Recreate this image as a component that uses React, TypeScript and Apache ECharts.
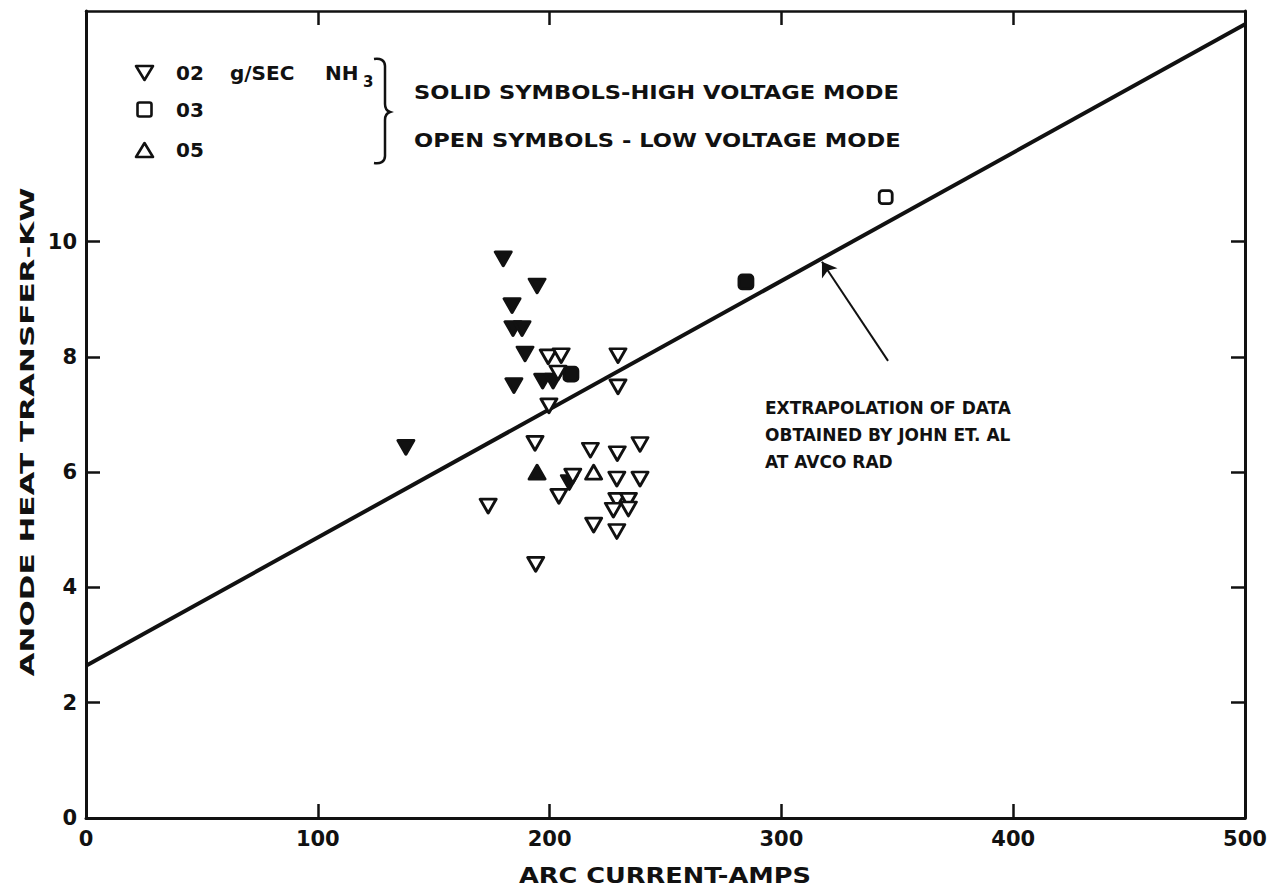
import React, { useEffect, useRef } from "react";
import * as echarts from "echarts";

// ---------- data ----------
const xTicks = [0, 100, 200, 300, 400, 500];
const yTicks = [0, 2, 4, 6, 8, 10];

// 0.2 g/sec NH3, high voltage mode (solid down triangles)
const solid02: [number, number][] = [
  [138, 6.43], [180, 9.7], [194.6, 9.23], [183.8, 8.89], [184.2, 8.49], [188.1, 8.49],
  [189.4, 8.05], [184.6, 7.5], [197, 7.58], [201.5, 7.58], [208.5, 5.82],
];
// 0.2 g/sec NH3, low voltage mode (open down triangles)
const open02: [number, number][] = [
  [199.4, 8.0], [205, 8.02], [229.5, 8.02], [203.6, 7.72], [229.5, 7.48], [199.7, 7.15],
  [193.7, 6.5], [217.6, 6.38], [229.2, 6.32], [239, 6.48], [210, 5.93], [229, 5.88],
  [239, 5.88], [204, 5.58], [173.5, 5.41], [229, 5.51], [234, 5.51], [227.5, 5.34],
  [234, 5.36], [219, 5.08], [229, 4.97], [194, 4.4],
];
// 0.3 g/sec (squares)
const solid03: [number, number][] = [[209.2, 7.7], [284.7, 9.3]];
const open03: [number, number][] = [[345, 10.77]];
// 0.5 g/sec (up triangles)
const solid05: [number, number][] = [[194.6, 6.0]];
const open05: [number, number][] = [[219, 6.0]];

// extrapolation line (John et al, AVCO RAD)
const fitLine: [number, number][] = [[0, 2.64], [500, 13.77]];
const arrowFrom: [number, number] = [346, 7.93];
const arrowTo: [number, number] = [317.5, 9.65];

const legendRows = ["02", "03", "05"];
const modeTexts = ["SOLID SYMBOLS-HIGH VOLTAGE MODE", "OPEN SYMBOLS - LOW VOLTAGE MODE"];
const noteLines = ["EXTRAPOLATION OF DATA", "OBTAINED BY JOHN ET. AL", "AT AVCO RAD"];

// ---------- shapes ----------
const braceD =
  "M0,1 C6,0 11,2 11,8 L11,46 C11,51 13,53 16,54 C13,55 11,57 11,62 L11,98 C11,104 6,106 0,105";
echarts.graphic.registerShape("brace", echarts.graphic.extendPath(braceD, {}));

const FONT = '"DejaVu Sans", "Liberation Sans", sans-serif';
const INK = "#111";

function txt(x: number, y: number, text: string, size: number, extra: any = {}, align = "left") {
  return {
    type: "text",
    x,
    y,
    silent: true,
    ...extra,
    style: {
      text,
      fill: INK,
      fontSize: size,
      fontWeight: "bold",
      fontFamily: FONT,
      align,
      verticalAlign: "middle",
      textAlign: align,
      textVerticalAlign: "middle",
    },
  };
}

export default function App() {
  const ref = useRef<HTMLDivElement>(null);

  useEffect(() => {
    if (!ref.current) return;
    const chart = echarts.init(ref.current, undefined, { renderer: "svg" });

    const axisLine = { show: true, onZero: false, lineStyle: { color: INK, width: 3 } };
    const tick = (vals?: number[]) => ({
      show: true,
      inside: true,
      length: 14,
      lineStyle: { color: INK, width: 2.5 },
      ...(vals ? { customValues: vals } : {}),
    });
    const label = {
      color: INK,
      fontSize: 21,
      fontWeight: "bold",
      fontFamily: FONT,
    };

    const openStyle = { color: "#fff", borderColor: INK, borderWidth: 2.8, borderJoin: "round", opacity: 1 };
    const solidStyle = { color: INK, borderColor: INK, borderWidth: 2.8, borderJoin: "round", opacity: 1 };

    const scatter = (name: string, data: any, symbol: string, size: any, rot: number, style: any, z: number) => ({
      name,
      type: "scatter",
      data,
      symbol,
      symbolSize: size,
      symbolRotate: rot,
      itemStyle: style,
      z,
      silent: true,
    });

    chart.setOption({
      animation: false,
      backgroundColor: "#fff",
      grid: { left: 86, right: 35, top: 11, bottom: 78, containLabel: false },
      xAxis: [
        {
          type: "value",
          min: 0,
          max: 500,
          interval: 100,
          position: "bottom",
          axisLine,
          axisTick: tick(),
          axisLabel: { ...label, margin: 10, customValues: xTicks },
          splitLine: { show: false },
        },
        {
          type: "value",
          min: 0,
          max: 500,
          interval: 100,
          position: "top",
          axisLine: { ...axisLine, lineStyle: { color: INK, width: 2.5 } },
          axisTick: tick(),
          axisLabel: { show: false },
          splitLine: { show: false },
        },
      ],
      yAxis: [
        {
          type: "value",
          min: 0,
          max: 14,
          interval: 2,
          position: "left",
          axisLine,
          axisTick: tick(yTicks),
          axisLabel: { ...label, margin: 9, customValues: yTicks },
          splitLine: { show: false },
        },
        {
          type: "value",
          min: 0,
          max: 14,
          interval: 2,
          position: "right",
          axisLine,
          axisTick: tick(yTicks),
          axisLabel: { show: false },
          splitLine: { show: false },
        },
      ],
      series: [
        {
          name: "extrapolation",
          type: "line",
          data: fitLine,
          symbol: "none",
          lineStyle: { color: INK, width: 4 },
          z: 1,
          silent: true,
          markLine: {
            silent: true,
            symbol: ["none", "arrow"],
            symbolSize: 14,
            label: { show: false },
            lineStyle: { color: INK, width: 2, type: "solid" },
            emphasis: { disabled: true },
            data: [[{ coord: arrowFrom }, { coord: arrowTo }]],
          },
        },
        scatter("02 high", solid02, "triangle", [16, 14], 180, solidStyle, 3),
        scatter("03 high", solid03, "roundRect", 14, 0, solidStyle, 3),
        scatter("05 high", solid05, "triangle", [16, 14], 0, solidStyle, 3),
        scatter("02 low", open02, "triangle", [16, 14], 180, openStyle, 4),
        scatter("03 low", open03, "roundRect", 13, 0, openStyle, 4),
        scatter("05 low", open05, "triangle", [16, 14], 0, openStyle, 4),
      ],
      graphic: [
        // legend symbols
        {
          type: "polygon",
          silent: true,
          shape: { points: [[136, 66], [153, 66], [144.5, 80]] },
          style: { fill: "#fff", stroke: INK, lineWidth: 2.6, lineJoin: "round" },
        },
        {
          type: "rect",
          silent: true,
          shape: { x: 137.5, y: 102.5, width: 14, height: 14, r: 2 },
          style: { fill: "#fff", stroke: INK, lineWidth: 2.6 },
        },
        {
          type: "polygon",
          silent: true,
          shape: { points: [[136, 157], [153, 157], [144.5, 143]] },
          style: { fill: "#fff", stroke: INK, lineWidth: 2.6, lineJoin: "round" },
        },
        txt(176, 73, legendRows[0], 20),
        txt(230, 73, "g/SEC", 20),
        txt(325, 73, "NH", 20),
        txt(363, 82, "3", 15),
        txt(176, 110, legendRows[1], 20),
        txt(176, 150, legendRows[2], 20),
        {
          type: "brace",
          x: 374,
          y: 58,
          silent: true,
          shape: {},
          style: { fill: "none", stroke: INK, lineWidth: 2.5 },
        },
        txt(414, 92, modeTexts[0], 20, { scaleX: 1.13 }),
        txt(414, 140, modeTexts[1], 20, { scaleX: 1.13 }),
        // note
        txt(765, 408, noteLines[0], 17),
        txt(765, 435, noteLines[1], 17),
        txt(765, 462, noteLines[2], 17),
        // axis titles
        txt(665, 876, "ARC CURRENT-AMPS", 21, { scaleX: 1.22 }, "center"),
        txt(27, 432, "ANODE HEAT TRANSFER-KW", 20, { rotation: Math.PI / 2, scaleX: 1.55 }, "center"),
      ],
    });

    return () => chart.dispose();
  }, []);

  return (
    <div
      ref={ref}
      style={{ position: "absolute", left: 0, top: 0, width: 1280, height: 896, background: "#fff" }}
    />
  );
}
